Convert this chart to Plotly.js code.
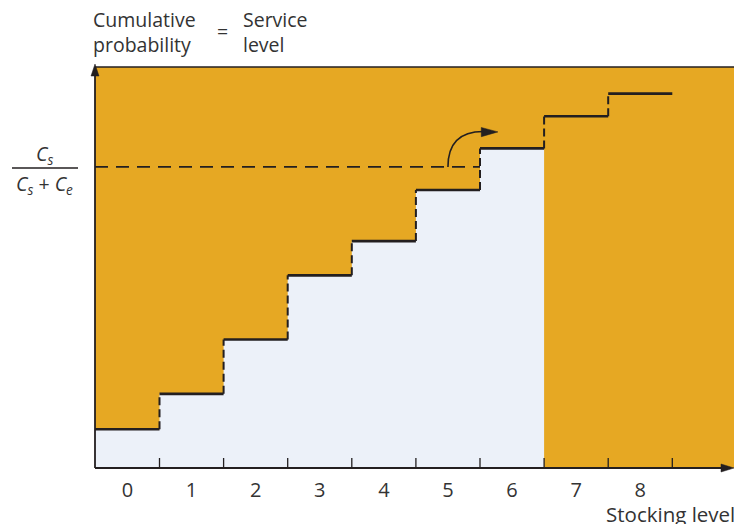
<!DOCTYPE html>
<html>
<head>
<meta charset="utf-8">
<script src="https://cdn.plot.ly/plotly-3.0.1.min.js"></script>
<style>html,body{margin:0;padding:0;background:#fff;}#chart{width:734px;height:524px;}</style>
</head>
<body>
<div id="chart"></div>
<script>
// ---- data ----
const stockingLevels = [0, 1, 2, 3, 4, 5, 6, 7, 8];
const tickLabels = ['0', '1', '2', '3', '4', '5', '6', '7', '8'];
const cumulativeProb = [0.096, 0.184, 0.319, 0.478, 0.563, 0.690, 0.793, 0.873, 0.929];
const criticalRatio = 0.747;      // Cs / (Cs + Ce)
const optimalLevel = 6;           // last level with shaded area
const topLevel = 0.995;

// ---- styling ----
const ORANGE = '#E6A823';
const BLUE = '#ECF1F9';
const INK = '#231F20';
const TEXT = '#333333';
const FONT = 'Open Sans, sans-serif';
const FS = 19.5;

const W = 734, H = 524;
const mL = 95, mR = 0, mT = 65, mB = 56;
const plotW = W - mL - mR, plotH = H - mT - mB;
const unit = 64.1;
const xMin = -0.5 - 0.4 / unit, xMax = xMin + plotW / unit;
const px2paperX = px => (px - mL) / plotW;
const px2paperY = py => (H - mB - py) / plotH;

const traces = [];

// shaded (service level) area
const fx = [xMin], fy = [cumulativeProb[0]];
for (let i = 1; i <= optimalLevel; i++) { fx.push(stockingLevels[i] - 0.5); fy.push(cumulativeProb[i]); }
fx.push(stockingLevels[optimalLevel] + 0.5); fy.push(cumulativeProb[optimalLevel]);
traces.push({x: fx, y: fy, mode: 'lines', line: {shape: 'hv', width: 0, color: BLUE},
  fill: 'tozeroy', fillcolor: BLUE, hoverinfo: 'skip', showlegend: false});

// horizontal solid step segments
const hx = [], hy = [];
stockingLevels.forEach((s, i) => { hx.push(i === 0 ? xMin : s - 0.5, s + 0.5, null); hy.push(cumulativeProb[i], cumulativeProb[i], null); });
traces.push({x: hx, y: hy, mode: 'lines', line: {color: INK, width: 2.6}, hoverinfo: 'skip', showlegend: false});

// vertical dashed risers
const vx = [], vy = [];
for (let i = 0; i < stockingLevels.length - 1; i++) {
  vx.push(stockingLevels[i] + 0.5, stockingLevels[i] + 0.5, null);
  vy.push(cumulativeProb[i], cumulativeProb[i + 1], null);
}
traces.push({x: vx, y: vy, mode: 'lines', line: {color: INK, width: 2, dash: '8px,4px'}, hoverinfo: 'skip', showlegend: false});

// critical ratio dashed line
traces.push({x: [xMin, optimalLevel - 0.5], y: [criticalRatio, criticalRatio], mode: 'lines',
  line: {color: INK, width: 1.8, dash: '13px,8px'}, hoverinfo: 'skip', showlegend: false});

// axis ticks at bin boundaries
const tkx = [], tky = [];
stockingLevels.forEach(s => { tkx.push(s + 0.5, s + 0.5, null); tky.push(0, 10 / plotH, null); });
traces.push({x: tkx, y: tky, mode: 'lines', line: {color: INK, width: 1.3}, hoverinfo: 'skip', showlegend: false});

const yTip = px2paperY(64), xTip = 1.0;
const shapes = [
  {type: 'rect', xref: 'x', yref: 'y', x0: xMin, x1: xMax, y0: 0, y1: topLevel, fillcolor: ORANGE, line: {width: 0}, layer: 'below'},
  {type: 'line', xref: 'x', yref: 'y', x0: xMin, x1: xMax, y0: topLevel, y1: topLevel, line: {color: INK, width: 1.6}},
  // axes
  {type: 'line', xref: 'paper', yref: 'paper', x0: 0, x1: 0, y0: 0, y1: px2paperY(72), line: {color: INK, width: 1.8}},
  {type: 'path', xref: 'paper', yref: 'paper',
   path: `M ${px2paperX(91)},${px2paperY(76)} L 0,${yTip} L ${px2paperX(99)},${px2paperY(76)} Z`,
   fillcolor: INK, line: {color: INK, width: 0.5}},
  {type: 'line', xref: 'paper', yref: 'paper', x0: 0, x1: px2paperX(725), y0: 0, y1: 0, line: {color: INK, width: 1.8}},
  {type: 'path', xref: 'paper', yref: 'paper',
   path: `M ${px2paperX(721)},${px2paperY(464)} L ${xTip},${px2paperY(468)} L ${px2paperX(721)},${px2paperY(472)} Z`,
   fillcolor: INK, line: {color: INK, width: 0.5}},
  // curved arrow
  {type: 'path', xref: 'x', yref: 'y',
   path: `M 5.0,${criticalRatio} C 5.0,${criticalRatio + 0.06} 5.2,${criticalRatio + 0.088} 5.55,${criticalRatio + 0.088}`,
   line: {color: INK, width: 1.6}},
  {type: 'path', xref: 'x', yref: 'y',
   path: `M 5.52,${criticalRatio + 0.098} L 5.78,${criticalRatio + 0.087} L 5.52,${criticalRatio + 0.075} Z`,
   fillcolor: INK, line: {color: INK, width: 0.5}},
  // fraction bar
  {type: 'line', xref: 'paper', yref: 'paper', x0: px2paperX(12), x1: px2paperX(78), y0: px2paperY(168), y1: px2paperY(168),
   line: {color: INK, width: 1.3}}
];

const annotations = [
  // top text
  {xref: 'paper', yref: 'paper', x: px2paperX(91), y: px2paperY(32), xanchor: 'left', yanchor: 'middle', align: 'left',
   text: 'Cumulative<br>probability', showarrow: false, font: {family: FONT, size: FS, color: TEXT}},
  {xref: 'paper', yref: 'paper', x: px2paperX(222), y: px2paperY(31), xanchor: 'center', yanchor: 'middle',
   text: '=', showarrow: false, font: {family: FONT, size: FS, color: TEXT}},
  {xref: 'paper', yref: 'paper', x: px2paperX(241), y: px2paperY(32), xanchor: 'left', yanchor: 'middle', align: 'left',
   text: 'Service<br>level', showarrow: false, font: {family: FONT, size: FS, color: TEXT}},
  // fraction
  {xref: 'paper', yref: 'paper', x: px2paperX(44), y: px2paperY(154), xanchor: 'center', yanchor: 'middle',
   text: '<i>C<sub>s</sub></i>', showarrow: false, font: {family: FONT, size: FS, color: TEXT}},
  {xref: 'paper', yref: 'paper', x: px2paperX(44), y: px2paperY(184), xanchor: 'center', yanchor: 'middle',
   text: '<i>C<sub>s</sub></i> + <i>C<sub>e</sub></i>', showarrow: false, font: {family: FONT, size: FS, color: TEXT}},
  // x-axis label
  {xref: 'paper', yref: 'paper', x: px2paperX(604), y: px2paperY(514), xanchor: 'left', yanchor: 'middle',
   text: 'Stocking level', showarrow: false, font: {family: FONT, size: 20.5, color: TEXT}}
];

const layout = {
  width: W, height: H,
  margin: {l: mL, r: mR, t: mT, b: mB, pad: 0},
  paper_bgcolor: '#ffffff', plot_bgcolor: '#ffffff',
  showlegend: false,
  xaxis: {range: [xMin, xMax], showgrid: false, zeroline: false, showline: false,
    tickmode: 'array', tickvals: stockingLevels, ticktext: tickLabels, ticks: '', ticklabelstandoff: 8,
    tickfont: {family: FONT, size: 20, color: TEXT}, fixedrange: true},
  yaxis: {range: [0, 1], showgrid: false, zeroline: false, showline: false, showticklabels: false, ticks: '', fixedrange: true},
  shapes: shapes,
  annotations: annotations
};

Plotly.newPlot('chart', traces, layout, {staticPlot: true, displayModeBar: false});
</script>
</body>
</html>
